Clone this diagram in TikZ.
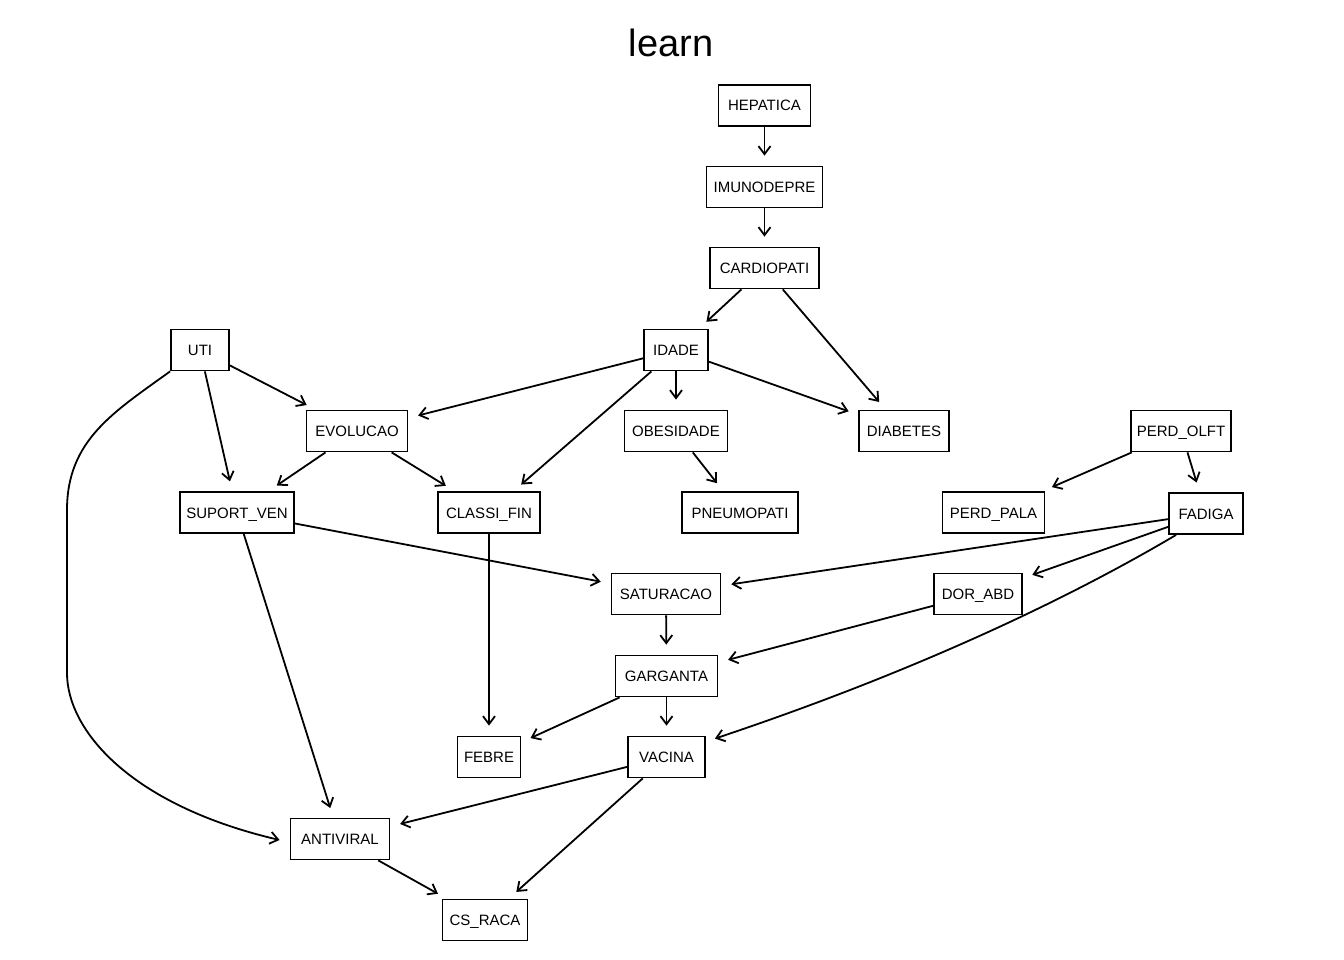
\documentclass[tikz,border=0pt]{standalone}
\usepackage{fontspec}
\setmainfont{Liberation Sans}
\usetikzlibrary{arrows.meta}
\begin{document}
\begin{tikzpicture}[x=1pt,y=-1pt,
  box/.style={draw,line width=1.8pt,minimum height=41pt,inner sep=0pt,text height=11pt,text depth=0pt,font=\fontsize{15}{18}\selectfont},
  arr/.style={draw,line width=1.8pt,shorten >=10pt,-{Straight Barb[length=8pt,width=12pt,line width=1.8pt]}}]
\useasboundingbox (0,0) rectangle (1344,960);
\node[anchor=base,font=\fontsize{38}{44}\selectfont] (title) at (671,57) {learn};
\node[box,minimum width=92pt]  (hep) at (764.5,105.5) {HEPATICA};
\node[box,minimum width=116pt] (imu) at (764.5,187) {IMUNODEPRE};
\node[box,minimum width=109pt] (car) at (764.5,268) {CARDIOPATI};
\node[box,minimum width=58pt]  (uti) at (200,350) {UTI};
\node[box,minimum width=64pt]  (ida) at (676,350) {IDADE};
\node[box,minimum width=101pt] (evo) at (357,431) {EVOLUCAO};
\node[box,minimum width=103pt] (obe) at (676,431) {OBESIDADE};
\node[box,minimum width=90pt]  (dia) at (904,431) {DIABETES};
\node[box,minimum width=100pt] (olf) at (1181,431) {PERD\_OLFT};
\node[box,minimum width=114pt] (sup) at (237,512.5) {SUPORT\_VEN};
\node[box,minimum width=102pt] (cla) at (489,512.5) {CLASSI\_FIN};
\node[box,minimum width=116pt] (pne) at (740,512.5) {PNEUMOPATI};
\node[box,minimum width=102pt] (pal) at (993.5,512.5) {PERD\_PALA};
\node[box,minimum width=74pt]  (fad) at (1206,513.5) {FADIGA};
\node[box,minimum width=109pt] (sat) at (666,594) {SATURACAO};
\node[box,minimum width=88pt]  (dor) at (978,594) {DOR\_ABD};
\node[box,minimum width=102pt] (gar) at (666.5,676) {GARGANTA};
\node[box,minimum width=63pt]  (feb) at (489,757) {FEBRE};
\node[box,minimum width=77pt]  (vac) at (666.5,757) {VACINA};
\node[box,minimum width=99pt]  (ant) at (340,839) {ANTIVIRAL};
\node[box,minimum width=85pt]  (cs)  at (485,920) {CS\_RACA};
\draw[arr] (hep) -- (imu);
\draw[arr] (imu) -- (car);
\draw[arr] (car) -- (ida);
\draw[arr] (car) -- (dia);
\draw[arr] (ida) -- (evo);
\draw[arr] (ida) -- (cla);
\draw[arr] (ida) -- (obe);
\draw[arr] (ida) -- (dia);
\draw[arr] (obe) -- (pne);
\draw[arr] (uti) -- (evo);
\draw[arr] (uti) -- (sup);
\draw[arr] (evo) -- (sup);
\draw[arr] (evo) -- (cla);
\draw[arr] (sup) -- (sat);
\draw[arr] (sup) -- (ant);
\draw[arr] (cla) -- (feb);
\draw[arr] (olf) -- (pal);
\draw[arr] (olf) -- (fad);
\draw[arr] (fad) -- (sat);
\draw[arr] (fad) -- (dor);
\draw[arr] (dor) -- (gar);
\draw[arr] (sat) -- (gar);
\draw[arr] (gar) -- (feb);
\draw[arr] (gar) -- (vac);
\draw[arr] (vac) -- (ant);
\draw[arr] (vac) -- (cs);
\draw[arr] (ant) -- (cs);
\coordinate (utiend) at ([xshift=-10pt,yshift=-1pt]ant.west);
\draw[arr,shorten >=0pt] (uti.south west) .. controls (114,412) and (67,440) .. (67,510)
  -- (67,673) .. controls (67,730) and (130,805) .. (utiend);
\coordinate (vacend) at ([shift={(9pt,-3pt)}]vac.north east);
\draw[arr,shorten >=0pt] ([xshift=8pt]fad.south west) .. controls (1100,580) and (950,660) .. (vacend);
\end{tikzpicture}
\end{document}
